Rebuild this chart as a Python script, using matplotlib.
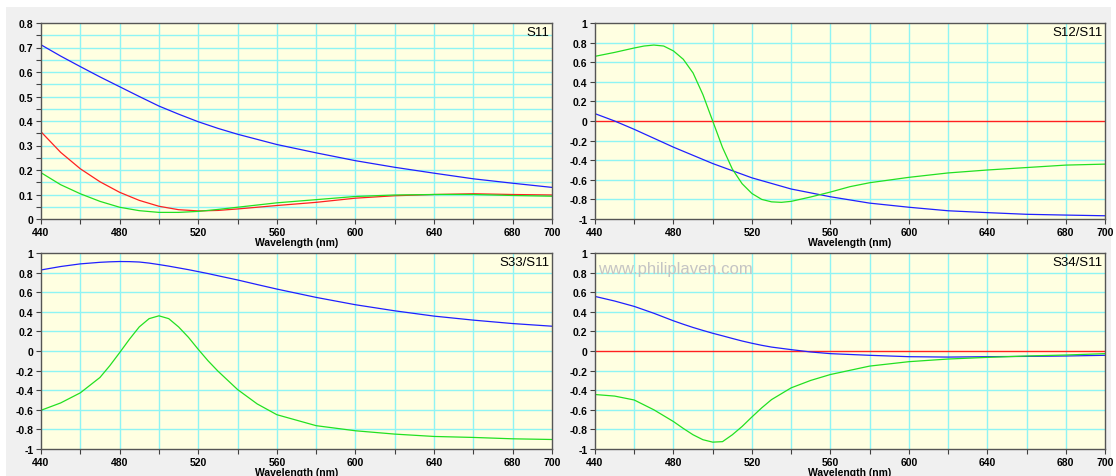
import numpy as np
import matplotlib
matplotlib.use("Agg")
import matplotlib.pyplot as plt
from matplotlib.patches import Rectangle

plt.rcParams['font.family'] = ['Liberation Sans', 'DejaVu Sans']

# ---- S11 ----
wl_s11 = [440, 450, 460, 470, 480, 490, 500, 510, 520, 530, 540, 560, 580, 600, 620, 640, 660, 680, 700]
s11_blue = [0.711, 0.665, 0.622, 0.580, 0.540, 0.500, 0.461, 0.428, 0.397, 0.370, 0.346, 0.304, 0.270, 0.238, 0.211, 0.187, 0.164, 0.146, 0.129]
s11_red = [0.356, 0.272, 0.205, 0.152, 0.109, 0.076, 0.052, 0.038, 0.033, 0.035, 0.041, 0.055, 0.068, 0.085, 0.095, 0.100, 0.103, 0.100, 0.098]
s11_green = [0.189, 0.140, 0.103, 0.072, 0.048, 0.034, 0.027, 0.027, 0.031, 0.039, 0.048, 0.066, 0.079, 0.092, 0.098, 0.100, 0.100, 0.096, 0.093]

# ---- S12/S11 ----
wl_s12 = [440, 450, 460, 465, 470, 475, 480, 485, 490, 495, 500, 505, 510, 515, 520, 525, 530, 535, 540, 550, 560, 570, 580, 600, 620, 640, 660, 680, 700]
s12_green = [0.66, 0.70, 0.745, 0.765, 0.775, 0.765, 0.715, 0.63, 0.49, 0.27, 0.0, -0.27, -0.49, -0.64, -0.74, -0.80, -0.825, -0.83, -0.82, -0.775, -0.725, -0.67, -0.63, -0.575, -0.53, -0.50, -0.475, -0.45, -0.44]
wl_s12b = [440, 450, 460, 480, 500, 520, 540, 560, 580, 600, 620, 640, 660, 680, 700]
s12_blue = [0.075, 0.0, -0.085, -0.267, -0.434, -0.58, -0.694, -0.773, -0.838, -0.88, -0.916, -0.935, -0.952, -0.960, -0.967]

# ---- S33/S11 ----
wl_s33 = [440, 450, 460, 470, 475, 480, 485, 490, 495, 500, 505, 510, 515, 520, 525, 530, 540, 550, 560, 580, 600, 620, 640, 660, 680, 700]
s33_blue = [0.827, 0.862, 0.889, 0.905, 0.910, 0.913, 0.912, 0.908, 0.897, 0.882, 0.866, 0.848, 0.830, 0.810, 0.790, 0.768, 0.725, 0.678, 0.632, 0.547, 0.472, 0.410, 0.356, 0.315, 0.280, 0.253]
s33_green = [-0.605, -0.53, -0.427, -0.27, -0.15, -0.017, 0.12, 0.246, 0.33, 0.359, 0.33, 0.246, 0.14, 0.017, -0.10, -0.205, -0.393, -0.54, -0.65, -0.762, -0.814, -0.848, -0.872, -0.882, -0.896, -0.903]

# ---- S34/S11 ----
wl_s34 = [440, 450, 460, 470, 480, 485, 490, 495, 500, 505, 510, 515, 520, 525, 530, 540, 550, 560, 580, 600, 620, 640, 660, 680, 700]
s34_blue = [0.557, 0.51, 0.455, 0.385, 0.308, 0.273, 0.24, 0.21, 0.181, 0.155, 0.128, 0.102, 0.079, 0.058, 0.040, 0.014, -0.010, -0.027, -0.044, -0.058, -0.062, -0.058, -0.055, -0.051, -0.044]
s34_green = [-0.444, -0.46, -0.50, -0.60, -0.72, -0.79, -0.855, -0.905, -0.93, -0.925, -0.855, -0.77, -0.673, -0.58, -0.496, -0.376, -0.30, -0.24, -0.154, -0.109, -0.082, -0.065, -0.051, -0.041, -0.027]

x_ticks = list(range(440, 701, 20))
x_labels = ['440', '', '480', '', '520', '', '560', '', '600', '', '640', '', '680', '700']

BLUE = '#2020ff'
RED = '#ff2020'
GREEN = '#22e022'
GRID = '#8ff4f4'
BG = '#ffffe1'

fig = plt.figure(figsize=(11.16, 4.77), dpi=100)
fig.patch.set_facecolor('white')
fig.patches.append(Rectangle((6 / 1116, 0), 1105 / 1116, 469 / 477,
                             transform=fig.transFigure, facecolor='#f0f0f0',
                             edgecolor='none', zorder=-10))

W, H = 1116, 477
def add_ax(x0, x1, y0, y1):
    return fig.add_axes([x0 / W, 1 - y1 / H, (x1 - x0) / W, (y1 - y0) / H])

ax1 = add_ax(41, 552, 24, 220)
ax2 = add_ax(595, 1105, 24, 220)
ax3 = add_ax(41, 552, 254, 450)
ax4 = add_ax(595, 1105, 254, 450)

def fmt(v):
    v = round(v, 2)
    if abs(v) < 1e-9:
        return '0'
    return '%g' % v

def style(ax, title, ymin, ymax, yticks, ylabels, ygrid):
    ax.set_facecolor(BG)
    ax.set_xlim(440, 700)
    ax.set_ylim(ymin, ymax)
    ax.set_xticks(x_ticks)
    ax.set_xticklabels(x_labels)
    ax.set_yticks(yticks)
    ax.set_yticklabels(ylabels)
    for g in x_ticks[1:-1]:
        ax.axvline(g, color=GRID, lw=1.0, zorder=0)
    for g in ygrid:
        ax.axhline(g, color=GRID, lw=1.0, zorder=0)
    ax.tick_params(direction='out', length=3.5, width=0.8, color='#404040',
                   labelsize=7.5, pad=2)
    for lab in ax.get_xticklabels() + ax.get_yticklabels():
        lab.set_fontweight('bold')
    for s in ax.spines.values():
        s.set_color('#555555')
        s.set_linewidth(1.0)
    ax.set_xlabel('Wavelength (nm)', fontsize=7.5, fontweight='bold', labelpad=0)
    ax.text(0.995, 0.985, title, transform=ax.transAxes, ha='right', va='top',
            fontsize=9.5, zorder=5)

y08 = [round(v, 2) for v in np.arange(0, 0.81, 0.05)]
y08_lab = [fmt(v) if abs(v * 10 - round(v * 10)) < 1e-6 else '' for v in y08]
y1 = [round(v, 1) + 0.0 for v in np.arange(-1, 1.01, 0.2)]
y1_lab = [fmt(v) for v in y1]
y1_grid_nozero = [v for v in y1[1:-1] if abs(v) > 1e-9]

style(ax1, 'S11', 0, 0.8, y08, y08_lab, y08[1:-1])
style(ax2, 'S12/S11', -1, 1, y1, y1_lab, y1_grid_nozero)
style(ax3, 'S33/S11', -1, 1, y1, y1_lab, y1[1:-1])
style(ax4, 'S34/S11', -1, 1, y1, y1_lab, y1_grid_nozero)

lw = 0.9
ax1.plot(wl_s11, s11_blue, color=BLUE, lw=lw)
ax1.plot(wl_s11, s11_red, color=RED, lw=lw)
ax1.plot(wl_s11, s11_green, color=GREEN, lw=lw)

ax2.axhline(0, color=RED, lw=1.0)
ax2.plot(wl_s12b, s12_blue, color=BLUE, lw=lw)
ax2.plot(wl_s12, s12_green, color=GREEN, lw=lw)

ax3.plot(wl_s33, s33_blue, color=BLUE, lw=lw)
ax3.plot(wl_s33, s33_green, color=GREEN, lw=lw)

ax4.axhline(0, color=RED, lw=1.0)
ax4.plot(wl_s34, s34_blue, color=BLUE, lw=lw)
ax4.plot(wl_s34, s34_green, color=GREEN, lw=lw)

ax4.text(0.005, 0.92, 'www.philiplaven.com', transform=ax4.transAxes,
         fontsize=12, color='#c4c4c4', ha='left', va='center', zorder=5)

fig.savefig('out.png', dpi=100)
